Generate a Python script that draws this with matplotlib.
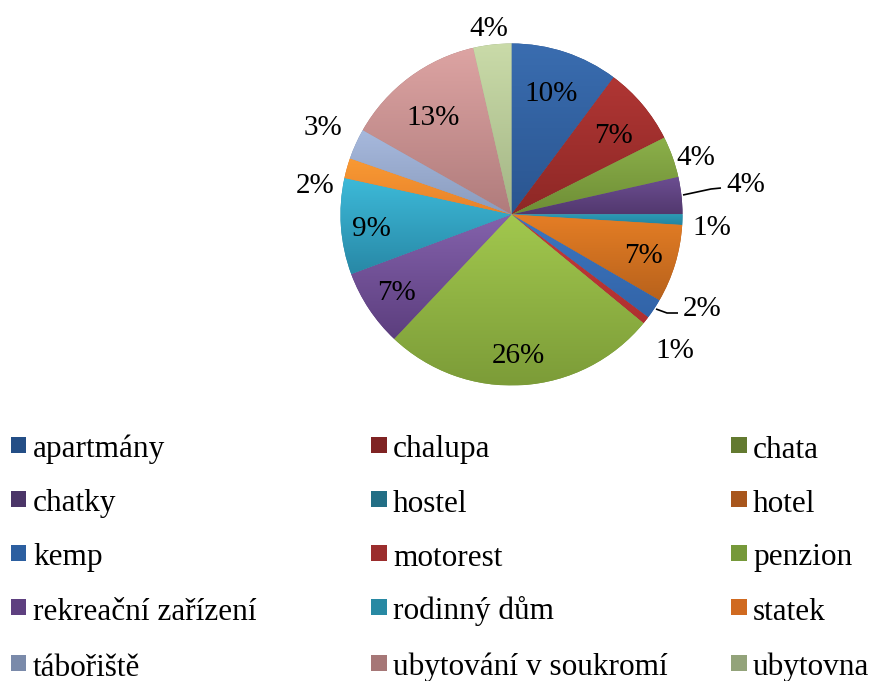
import numpy as np
import matplotlib
matplotlib.use("Agg")
import matplotlib.pyplot as plt
from matplotlib.patches import Rectangle
from matplotlib.colors import to_rgb

# ---------------- data ----------------
categories = ["apartmány", "chalupa", "chata", "chatky", "hostel", "hotel",
              "kemp", "motorest", "penzion", "rekreační zařízení",
              "rodinný dům", "statek", "tábořiště", "ubytování v soukromí",
              "ubytovna"]
shares = [10.2, 7.4, 3.9, 3.5, 1.0, 7.4, 1.9, 0.7, 26.1, 7.3, 9.1, 1.9, 2.9, 13.2, 3.6]
pct_labels = ["10%", "7%", "4%", "4%", "1%", "7%", "2%", "1%", "26%", "7%",
              "9%", "2%", "3%", "13%", "4%"]

# ---------------- styles ----------------
top_colors = ["#3A6DB0", "#B03634", "#8CB04A", "#6C4E92", "#2B9AB5", "#E57E25",
              "#3D76C0", "#C53A3A", "#A2C84E", "#8462AC", "#3DBAD9", "#F99A34",
              "#A7B9DD", "#DDA4A3", "#CADBA9"]
bottom_colors = ["#2A5590", "#8E2826", "#6E8E36", "#52386E", "#2484A0", "#B8621C",
                 "#3264A8", "#AE3030", "#7C9C38", "#5C3E7E", "#2888A6", "#E8822A",
                 "#8A9CBE", "#B07C7C", "#A3B585"]
legend_colors = ["#244E86", "#7F2323", "#637A30", "#4B3568", "#226E85", "#A8561C",
                 "#2C5FA0", "#9B2D2D", "#76993A", "#5E4080", "#2889A3", "#D06A20",
                 "#7A8AAA", "#A67777", "#93A37A"]

W, H = 875, 681
CX, CY_TOP, R = 511.5, 214.5, 171.0
HALF = 1.5

# label centres in pixel coords (from top-left)
label_px = [(550.7, 91.5), (613.3, 133.3), (695.7, 155.0), (746.0, 182.0),
            (712.0, 225.0), (643.3, 253.3), (702.0, 306.0), (674.7, 348.3),
            (518.7, 353.7), (396.7, 290.0), (371.0, 226.7), (315.0, 183.7),
            (322.7, 125.0), (433.3, 115.7), (489.0, 26.0)]
leader_lines = [[(683, 195), (711, 189), (721, 188)],
                [(656, 309), (667, 313), (678, 313)]]

FONT = "Liberation Serif"
LABEL_PT = 21
LEGEND_PT = 22.5

fig = plt.figure(figsize=(W / 100, H / 100), dpi=100)
fig.patch.set_facecolor("white")

cy = H - CY_TOP
ax = fig.add_axes([(CX - HALF * R) / W, (cy - HALF * R) / H,
                   2 * HALF * R / W, 2 * HALF * R / H])


def px2d(px, py):
    return (px - CX) / R, (CY_TOP - py) / R


wedges, _ = ax.pie(shares, startangle=90, counterclock=False, radius=1,
                   colors=legend_colors,
                   wedgeprops=dict(linewidth=0, antialiased=True))

for w, ct, cb in zip(wedges, top_colors, bottom_colors):
    ext = w.get_path().get_extents()
    c1, c2 = np.array(to_rgb(ct)), np.array(to_rgb(cb))
    t = np.linspace(0, 1, 256)[:, None, None]
    grad = c1[None, None, :] * (1 - t) + c2[None, None, :] * t
    im = ax.imshow(grad, extent=[ext.x0, ext.x1, ext.y0, ext.y1],
                   origin="upper", aspect="auto", interpolation="bilinear",
                   zorder=w.get_zorder() + 0.1)
    im.set_clip_path(w)

ax.set_xlim(-HALF, HALF)
ax.set_ylim(-HALF, HALF)
ax.set_aspect("equal")
ax.axis("off")

# percentage labels
label_pxsize = LABEL_PT * 100 / 72
for (lx, ly), txt in zip(label_px, pct_labels):
    x, y = px2d(lx, ly + 0.33 * label_pxsize)
    ax.text(x, y, txt, ha="center", va="baseline", fontsize=LABEL_PT,
            family=FONT, color="black", zorder=5)

for line in leader_lines:
    pts = [px2d(*p) for p in line]
    ax.plot([p[0] for p in pts], [p[1] for p in pts], color="black",
            lw=1.2, zorder=5, solid_capstyle="butt")

# legend (manual grid, 3 columns x 5 rows)
col_x = [11, 371, 731]
row_y = [437, 491, 545, 599, 655]
SQ = 15.5
for i, (name, col) in enumerate(zip(categories, legend_colors)):
    r, c = divmod(i, 3)
    x0, y0 = col_x[c], row_y[r]
    fig.patches.append(Rectangle((x0 / W, 1 - (y0 + SQ) / H), SQ / W, SQ / H,
                                 transform=fig.transFigure, facecolor=col,
                                 edgecolor="none"))
    fig.text((x0 + 22) / W, 1 - (y0 + SQ + 5) / H, name, ha="left",
             va="baseline", fontsize=LEGEND_PT, family=FONT, color="black")

fig.savefig("out.png", dpi=100, facecolor="white")
